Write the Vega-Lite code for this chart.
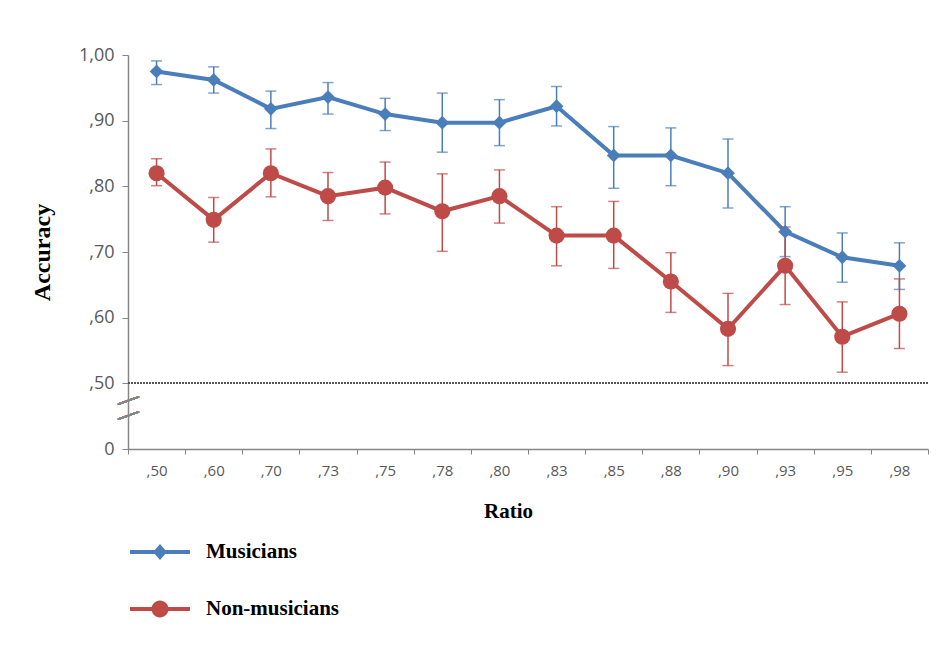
{
  "$schema": "https://vega.github.io/schema/vega-lite/v6.json",
  "autosize": {"type": "none"},
  "padding": {"left": 128, "top": 55, "right": 19, "bottom": 212},
  "width": 800,
  "height": 394,
  "background": "white",
  "config": {"view": {"stroke": null}},
  "data": {"values": [
    {"ratio": ",50", "group": "Musicians", "acc": 0.975, "lo": 0.955, "hi": 0.991},
    {"ratio": ",60", "group": "Musicians", "acc": 0.962, "lo": 0.942, "hi": 0.982},
    {"ratio": ",70", "group": "Musicians", "acc": 0.918, "lo": 0.888, "hi": 0.945},
    {"ratio": ",73", "group": "Musicians", "acc": 0.936, "lo": 0.910, "hi": 0.958},
    {"ratio": ",75", "group": "Musicians", "acc": 0.910, "lo": 0.885, "hi": 0.934},
    {"ratio": ",78", "group": "Musicians", "acc": 0.897, "lo": 0.852, "hi": 0.942},
    {"ratio": ",80", "group": "Musicians", "acc": 0.897, "lo": 0.862, "hi": 0.932},
    {"ratio": ",83", "group": "Musicians", "acc": 0.922, "lo": 0.892, "hi": 0.952},
    {"ratio": ",85", "group": "Musicians", "acc": 0.847, "lo": 0.797, "hi": 0.891},
    {"ratio": ",88", "group": "Musicians", "acc": 0.847, "lo": 0.801, "hi": 0.889},
    {"ratio": ",90", "group": "Musicians", "acc": 0.820, "lo": 0.767, "hi": 0.872},
    {"ratio": ",93", "group": "Musicians", "acc": 0.731, "lo": 0.693, "hi": 0.769},
    {"ratio": ",95", "group": "Musicians", "acc": 0.692, "lo": 0.654, "hi": 0.729},
    {"ratio": ",98", "group": "Musicians", "acc": 0.679, "lo": 0.643, "hi": 0.714},
    {"ratio": ",50", "group": "Non-musicians", "acc": 0.820, "lo": 0.801, "hi": 0.842},
    {"ratio": ",60", "group": "Non-musicians", "acc": 0.749, "lo": 0.715, "hi": 0.783},
    {"ratio": ",70", "group": "Non-musicians", "acc": 0.820, "lo": 0.784, "hi": 0.857},
    {"ratio": ",73", "group": "Non-musicians", "acc": 0.785, "lo": 0.748, "hi": 0.821},
    {"ratio": ",75", "group": "Non-musicians", "acc": 0.798, "lo": 0.758, "hi": 0.837},
    {"ratio": ",78", "group": "Non-musicians", "acc": 0.762, "lo": 0.701, "hi": 0.819},
    {"ratio": ",80", "group": "Non-musicians", "acc": 0.785, "lo": 0.744, "hi": 0.825},
    {"ratio": ",83", "group": "Non-musicians", "acc": 0.725, "lo": 0.679, "hi": 0.769},
    {"ratio": ",85", "group": "Non-musicians", "acc": 0.725, "lo": 0.675, "hi": 0.777},
    {"ratio": ",88", "group": "Non-musicians", "acc": 0.655, "lo": 0.608, "hi": 0.699},
    {"ratio": ",90", "group": "Non-musicians", "acc": 0.583, "lo": 0.527, "hi": 0.637},
    {"ratio": ",93", "group": "Non-musicians", "acc": 0.679, "lo": 0.620, "hi": 0.738},
    {"ratio": ",95", "group": "Non-musicians", "acc": 0.571, "lo": 0.517, "hi": 0.624},
    {"ratio": ",98", "group": "Non-musicians", "acc": 0.606, "lo": 0.553, "hi": 0.659}
  ]},
  "encoding": {
    "x": {
      "field": "ratio", "type": "nominal", "sort": null,
      "scale": {"type": "band", "paddingInner": 0, "paddingOuter": 0},
      "axis": {
        "title": "Ratio", "labelAngle": 0, "labelFont": "Open Sans", "labelFontSize": 15,
        "labelColor": "#595959", "labelPadding": 9, "tickBand": "extent", "tickSize": 5,
        "tickColor": "#868686", "domainColor": "#868686", "domainWidth": 1.5,
        "titleFont": "Liberation Serif", "titleFontSize": 21, "titleFontWeight": "bold",
        "titleColor": "#000000", "titlePadding": 22, "titleX": 380
      }
    }
  },
  "layer": [
    {
      "mark": {"type": "point", "filled": true, "opacity": 1, "size": 0},
      "encoding": {
        "y": {"field": "acc", "type": "quantitative"},
        "color": {
          "field": "group", "type": "nominal",
          "scale": {"domain": ["Musicians", "Non-musicians"], "range": ["#4A7EBB", "#BE4B48"]},
          "legend": {
            "orient": "none", "legendX": 7, "legendY": 472, "direction": "vertical",
            "title": null, "padding": 0, "symbolSize": 2500, "symbolStrokeWidth": 0,
            "rowPadding": 22, "labelOffset": 21, "labelFont": "Liberation Serif",
            "labelFontSize": 21, "labelFontWeight": "bold", "labelColor": "#000000"
          }
        },
        "shape": {
          "field": "group", "type": "nominal",
          "scale": {
            "domain": ["Musicians", "Non-musicians"],
            "range": [
              "M-1.2,-0.08H1.2V0.08H-1.2ZM0,-0.32L0.28,0L0,0.32L-0.28,0Z",
              "M-1.2,-0.08H1.2V0.08H-1.2ZM-0.34,0A0.34,0.34,0,1,1,0.34,0A0.34,0.34,0,1,1,-0.34,0Z"
            ]
          },
          "legend": {
            "orient": "none", "legendX": 7, "legendY": 472, "direction": "vertical",
            "title": null, "padding": 0, "symbolSize": 2500, "symbolStrokeWidth": 0,
            "rowPadding": 22, "labelOffset": 21, "labelFont": "Liberation Serif",
            "labelFontSize": 21, "labelFontWeight": "bold", "labelColor": "#000000"
          }
        }
      }
    },
    {
      "mark": {"type": "rule", "strokeDash": [2, 1], "color": "#555555", "strokeWidth": 1.5},
      "encoding": {"y": {"datum": 0.5, "type": "quantitative"}, "x": null}
    },
    {
      "mark": {"type": "line", "strokeWidth": 4},
      "encoding": {
        "y": {
          "field": "acc", "type": "quantitative",
          "scale": {"domain": [0.4, 1.0], "nice": false, "zero": false},
          "axis": {
            "title": "Accuracy", "values": [0.4, 0.5, 0.6, 0.7, 0.8, 0.9, 1.0],
            "labelExpr": "datum.value > 0.99 ? '1,00' : datum.value < 0.45 ? '0' : replace(format(datum.value, '.2f'), '0.', ',')",
            "labelFont": "Open Sans", "labelFontSize": 18, "labelColor": "#595959",
            "labelPadding": 8, "tickSize": 6, "tickColor": "#868686", "domainColor": "#868686",
            "domainWidth": 1.5, "grid": false,
            "titleFont": "Liberation Serif", "titleFontSize": 24, "titleFontWeight": "bold",
            "titleColor": "#000000", "titlePadding": 24
          }
        },
        "color": {"field": "group", "type": "nominal", "legend": null},
        "detail": {"field": "group"}
      }
    },
    {
      "mark": {"type": "errorbar", "ticks": {"size": 11}, "thickness": 1.5},
      "encoding": {
        "y": {"field": "lo", "type": "quantitative", "title": "Accuracy"},
        "y2": {"field": "hi"},
        "color": {"field": "group", "type": "nominal", "legend": null}
      }
    },
    {
      "transform": [{"filter": "datum.group == 'Musicians'"}],
      "mark": {"type": "point", "shape": "diamond", "filled": true, "size": 190, "opacity": 1},
      "encoding": {
        "y": {"field": "acc", "type": "quantitative"},
        "color": {"field": "group", "type": "nominal", "legend": null}
      }
    },
    {
      "transform": [{"filter": "datum.group == 'Non-musicians'"}],
      "mark": {"type": "point", "shape": "circle", "filled": true, "size": 260, "opacity": 1},
      "encoding": {
        "y": {"field": "acc", "type": "quantitative"},
        "color": {"field": "group", "type": "nominal", "legend": null}
      }
    },
    {
      "mark": {"type": "text", "text": "\u2014", "angle": -20, "fontSize": 22, "color": "#868686"},
      "encoding": {"x": {"value": 0}, "y": {"datum": 0.476, "type": "quantitative"}}
    },
    {
      "mark": {"type": "text", "text": "\u2014", "angle": -20, "fontSize": 22, "color": "#868686"},
      "encoding": {"x": {"value": 0}, "y": {"datum": 0.453, "type": "quantitative"}}
    }
  ]
}
